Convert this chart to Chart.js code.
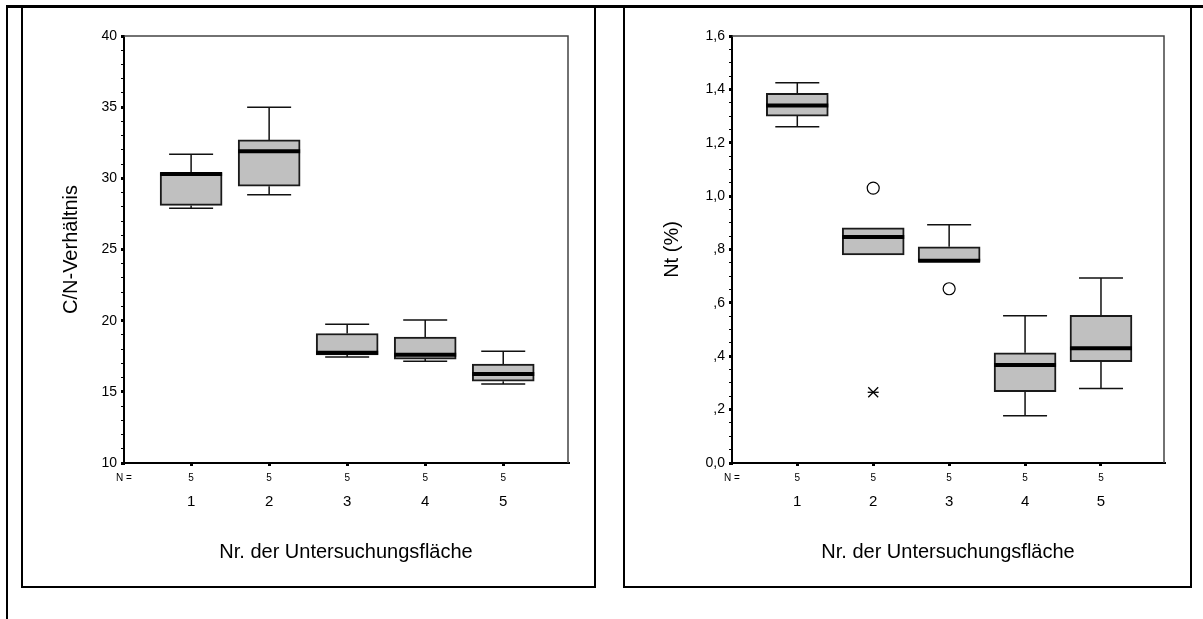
<!DOCTYPE html>
<html>
<head>
<meta charset="utf-8">
<script src="https://cdn.jsdelivr.net/npm/chart.js@4.4.1/dist/chart.umd.min.js"></script>
<style>
  body { margin: 0; background: #fff; width: 1203px; height: 619px; position: relative; overflow: hidden; }
  .line { position: absolute; background: #000; }
  .panel { position: absolute; box-sizing: border-box; border: 2px solid #000; }
  canvas { position: absolute; }
</style>
</head>
<body>
<div class="line" style="left:6px;top:5px;width:1197px;height:3px"></div>
<div class="line" style="left:6px;top:5px;width:2px;height:614px"></div>
<div class="panel" style="left:21px;top:5px;width:575px;height:583px"></div>
<div class="panel" style="left:623px;top:5px;width:569px;height:583px"></div>
<canvas id="cnChart" width="571" height="579" style="left:23px;top:7px"></canvas>
<canvas id="ntChart" width="565" height="579" style="left:625px;top:7px"></canvas>

<script>
// Daten
const categories = [1, 2, 3, 4, 5];
const caseCounts = [5, 5, 5, 5, 5];
const xTitle = "Nr. der Untersuchungsfläche";

// C/N-Verhältnis
const cnMin    = [27.9, 28.85, 17.45, 17.15, 15.55];
const cnQ1     = [28.1, 29.45, 17.6, 17.3, 15.75];
const cnMedian = [30.3, 31.9, 17.75, 17.6, 16.25];
const cnQ3     = [30.4, 32.7, 19.1, 18.85, 16.95];
const cnMax    = [31.7, 35.0, 19.75, 20.05, 17.85];
const cnTickValues = [10, 15, 20, 25, 30, 35, 40];
const cnTickLabels = ["10", "15", "20", "25", "30", "35", "40"];

// Nt (%)
const ntMin    = [1.26, 0.78, 0.755, 0.177, 0.279];
const ntQ1     = [1.30, 0.78, 0.755, 0.267, 0.38];
const ntMedian = [1.34, 0.847, 0.758, 0.367, 0.43];
const ntQ3     = [1.385, 0.881, 0.81, 0.413, 0.553];
const ntMax    = [1.425, 0.881, 0.893, 0.552, 0.693];
const ntOutliers = [{ x: 2, y: 1.03 }, { x: 3, y: 0.653 }];
const ntExtremes = [{ x: 2, y: 0.265 }];
const ntTickValues = [0, 0.2, 0.4, 0.6, 0.8, 1.0, 1.2, 1.4, 1.6];
const ntTickLabels = ["0,0", ",2", ",4", ",6", ",8", "1,0", "1,2", "1,4", "1,6"];

const FONT = "Arial, 'Liberation Sans', sans-serif";

/*************************************************
 *  Whisker / Median / Beschriftung
 *************************************************/
function boxPlugin(s) {
  return {
    id: "boxWhiskers",
    beforeDatasetsDraw(chart) {
      const { ctx, scales: { x, y } } = chart;
      ctx.save();
      ctx.strokeStyle = "#111";
      ctx.lineWidth = 1.5;
      categories.forEach((c, i) => {
        const px = x.getPixelForValue(c);
        const pairs = [[s.q3[i], s.max[i]], [s.q1[i], s.min[i]]];
        pairs.forEach(([from, to]) => {
          if (from === to) return;
          const y0 = y.getPixelForValue(from);
          const y1 = y.getPixelForValue(to);
          ctx.beginPath();
          ctx.moveTo(px, y0);
          ctx.lineTo(px, y1);
          ctx.moveTo(px - 22, y1);
          ctx.lineTo(px + 22, y1);
          ctx.stroke();
        });
      });
      ctx.restore();
    },
    afterDatasetsDraw(chart) {
      const { ctx, scales: { y } } = chart;
      const bars = chart.getDatasetMeta(0).data;
      ctx.save();
      ctx.strokeStyle = "#000";
      ctx.lineWidth = 4;
      bars.forEach((bar, i) => {
        const py = y.getPixelForValue(s.median[i]);
        ctx.beginPath();
        ctx.moveTo(bar.x - bar.width / 2, py);
        ctx.lineTo(bar.x + bar.width / 2, py);
        ctx.stroke();
      });
      ctx.restore();
    },
    afterDraw(chart) {
      const { ctx, chartArea: a, scales: { x } } = chart;
      ctx.save();
      // Rahmen oben / rechts
      ctx.strokeStyle = "#444";
      ctx.lineWidth = 1.5;
      ctx.beginPath();
      ctx.moveTo(a.left, a.top);
      ctx.lineTo(a.right, a.top);
      ctx.lineTo(a.right, a.bottom);
      ctx.stroke();

      // N = Zeile und Kategorien
      ctx.fillStyle = "#000";
      ctx.textAlign = "center";
      ctx.textBaseline = "middle";
      ctx.font = "10px " + FONT;
      ctx.fillText("N =", a.left, a.bottom + 15);
      categories.forEach((c, i) => {
        ctx.fillText(String(caseCounts[i]), x.getPixelForValue(c), a.bottom + 15);
      });
      ctx.font = "15px " + FONT;
      categories.forEach((c) => {
        ctx.fillText(String(c), x.getPixelForValue(c), a.bottom + 39);
      });
      ctx.restore();
    },
  };
}

function makeBoxChart(id, s) {
  const isMajor = (v) => s.tickValues.some((m) => Math.abs(m - v) < 1e-6);

  const datasets = [
    {
      type: "bar",
      data: categories.map((c, i) => ({ x: c, y: [s.q1[i], s.q3[i]] })),
      backgroundColor: "#c0c0c0",
      borderColor: "#1a1a1a",
      borderWidth: 2,
      borderSkipped: false,
      barThickness: 62,
    },
  ];
  if (s.outliers) {
    datasets.push({
      type: "scatter",
      data: s.outliers,
      pointStyle: "circle",
      pointRadius: 6,
      pointBackgroundColor: "#fff",
      pointBorderColor: "#000",
      pointBorderWidth: 1.2,
    });
  }
  if (s.extremes) {
    ["crossRot", "line"].forEach((ps) => {
      datasets.push({
        type: "scatter",
        data: s.extremes,
        pointStyle: ps,
        pointRadius: ps === "line" ? 5.5 : 7,
        pointBorderColor: "#000",
        pointBorderWidth: 1.3,
      });
    });
  }

  return new Chart(document.getElementById(id), {
    type: "bar",
    data: { datasets },
    options: {
      responsive: false,
      animation: false,
      devicePixelRatio: 1,
      layout: { padding: { left: 0, top: 29, right: 26, bottom: 0 } },
      plugins: { legend: { display: false }, tooltip: { enabled: false } },
      scales: {
        x: {
          type: "linear",
          min: 0.14,
          max: 5.83,
          offset: false,
          afterBuildTicks: (scale) => {
            scale.ticks = categories.map((v) => ({ value: v }));
          },
          afterFit: (scale) => { scale.height = 123; },
          ticks: { display: false },
          grid: {
            offset: false,
            drawOnChartArea: false,
            drawTicks: true,
            tickLength: 3,
            lineWidth: 3,
            color: "#000",
          },
          border: { display: true, color: "#000", width: 2 },
          title: {
            display: true,
            text: xTitle,
            color: "#000",
            font: { family: FONT, size: 20 },
            padding: { top: 0, bottom: 22 },
          },
        },
        y: {
          type: "linear",
          min: s.yMin,
          max: s.yMax,
          afterBuildTicks: (scale) => {
            scale.ticks = s.minorTicks.map((v) => ({ value: v }));
          },
          afterFit: (scale) => { scale.width = s.yWidth; },
          ticks: {
            autoSkip: false,
            padding: 4,
            color: "#000",
            font: { family: FONT, size: 14 },
            callback: (v) => {
              const i = s.tickValues.findIndex((m) => Math.abs(m - v) < 1e-6);
              return i >= 0 ? s.tickLabels[i] : "";
            },
          },
          grid: {
            drawOnChartArea: false,
            drawTicks: true,
            tickLength: 3,
            color: "#000",
            lineWidth: (ctx) => (ctx.tick && isMajor(ctx.tick.value) ? 3 : 1),
          },
          border: { display: true, color: "#000", width: 2 },
          title: {
            display: true,
            text: s.yTitle,
            color: "#000",
            font: { family: FONT, size: 20 },
            padding: { top: s.yTitlePad, bottom: 0 },
          },
        },
      },
    },
    plugins: [boxPlugin(s)],
  });
}

// Nebenstriche
const cnMinor = [];
for (let v = 10; v <= 40; v++) cnMinor.push(v);
const ntMinor = [];
for (let i = 0; i <= 32; i++) ntMinor.push(Math.round(i * 5) / 100);

makeBoxChart("cnChart", {
  min: cnMin, q1: cnQ1, median: cnMedian, q3: cnQ3, max: cnMax,
  yMin: 10, yMax: 40, minorTicks: cnMinor,
  tickValues: cnTickValues, tickLabels: cnTickLabels,
  yTitle: "C/N-Verhältnis", yWidth: 101, yTitlePad: 36,
});

makeBoxChart("ntChart", {
  min: ntMin, q1: ntQ1, median: ntMedian, q3: ntQ3, max: ntMax,
  outliers: ntOutliers, extremes: ntExtremes,
  yMin: 0, yMax: 1.6, minorTicks: ntMinor,
  tickValues: ntTickValues, tickLabels: ntTickLabels,
  yTitle: "Nt (%)", yWidth: 107, yTitlePad: 35,
});
</script>
</body>
</html>
